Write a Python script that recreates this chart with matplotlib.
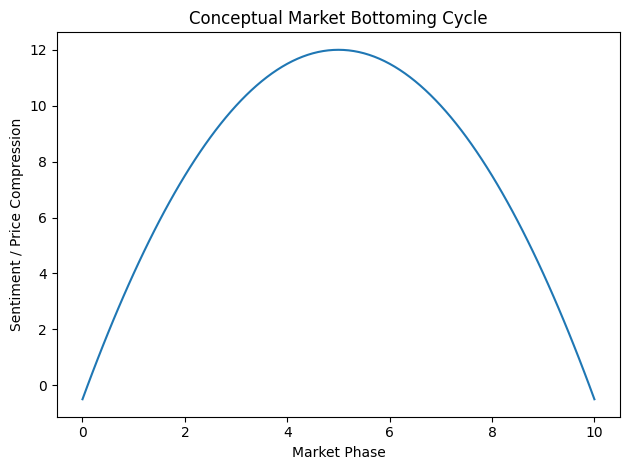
import matplotlib
matplotlib.use("Agg")
import matplotlib.pyplot as plt

market_phase = [0.0, 0.1, 0.2, 0.3, 0.4, 0.5, 0.6, 0.7, 0.8, 0.9,
                1.0, 1.1, 1.2, 1.3, 1.4, 1.5, 1.6, 1.7, 1.8, 1.9,
                2.0, 2.1, 2.2, 2.3, 2.4, 2.5, 2.6, 2.7, 2.8, 2.9,
                3.0, 3.1, 3.2, 3.3, 3.4, 3.5, 3.6, 3.7, 3.8, 3.9,
                4.0, 4.1, 4.2, 4.3, 4.4, 4.5, 4.6, 4.7, 4.8, 4.9,
                5.0, 5.1, 5.2, 5.3, 5.4, 5.5, 5.6, 5.7, 5.8, 5.9,
                6.0, 6.1, 6.2, 6.3, 6.4, 6.5, 6.6, 6.7, 6.8, 6.9,
                7.0, 7.1, 7.2, 7.3, 7.4, 7.5, 7.6, 7.7, 7.8, 7.9,
                8.0, 8.1, 8.2, 8.3, 8.4, 8.5, 8.6, 8.7, 8.8, 8.9,
                9.0, 9.1, 9.2, 9.3, 9.4, 9.5, 9.6, 9.7, 9.8, 9.9,
                10.0]
sentiment = [-0.5, -0.005, 0.48, 0.955, 1.42, 1.875, 2.32, 2.755, 3.18, 3.595,
             4.0, 4.395, 4.78, 5.155, 5.52, 5.875, 6.22, 6.555, 6.88, 7.195,
             7.5, 7.795, 8.08, 8.355, 8.62, 8.875, 9.12, 9.355, 9.58, 9.795,
             10.0, 10.195, 10.38, 10.555, 10.72, 10.875, 11.02, 11.155, 11.28, 11.395,
             11.5, 11.595, 11.68, 11.755, 11.82, 11.875, 11.92, 11.955, 11.98, 11.995,
             12.0, 11.995, 11.98, 11.955, 11.92, 11.875, 11.82, 11.755, 11.68, 11.595,
             11.5, 11.395, 11.28, 11.155, 11.02, 10.875, 10.72, 10.555, 10.38, 10.195,
             10.0, 9.795, 9.58, 9.355, 9.12, 8.875, 8.62, 8.355, 8.08, 7.795,
             7.5, 7.195, 6.88, 6.555, 6.22, 5.875, 5.52, 5.155, 4.78, 4.395,
             4.0, 3.595, 3.18, 2.755, 2.32, 1.875, 1.42, 0.955, 0.48, -0.005,
             -0.5]

fig, ax = plt.subplots(figsize=(6.4, 4.8), dpi=100)
ax.plot(market_phase, sentiment)
ax.set_title("Conceptual Market Bottoming Cycle")
ax.set_xlabel("Market Phase")
ax.set_ylabel("Sentiment / Price Compression")
fig.tight_layout()
fig.savefig("out.png", bbox_inches="tight")
